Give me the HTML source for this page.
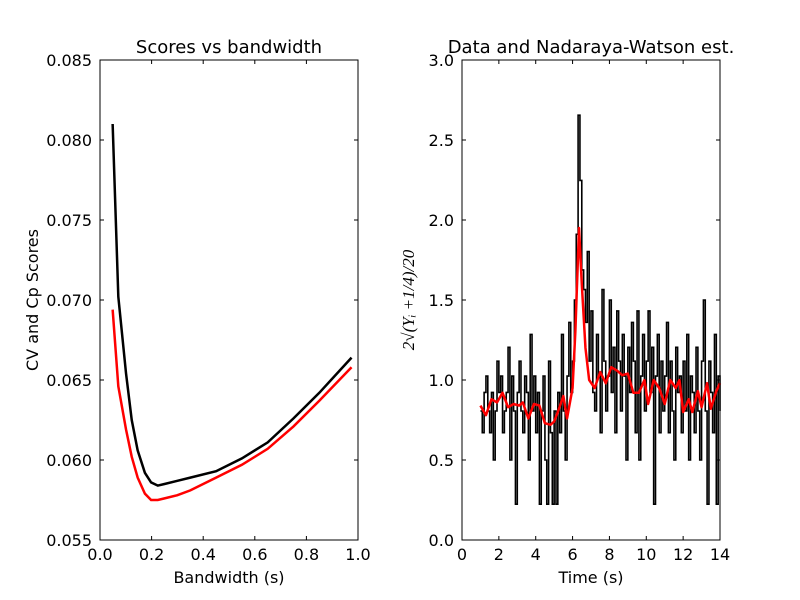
<!DOCTYPE html>
<html><head><meta charset="utf-8"><style>
body{margin:0;background:#fff}
svg{display:block;font-family:"DejaVu Sans","Liberation Sans",sans-serif}
</style></head><body>
<svg id="fig" width="800" height="600" viewBox="0 0 800 600">
<rect width="800" height="600" fill="#fff"/>
<g id="left"></g>
<g id="right"></g>
</svg>
<script>
const bwX=[0.049,0.071,0.101,0.123,0.146,0.174,0.198,0.224,0.25,0.3,0.35,0.45,0.55,0.65,0.75,0.85,0.975];
const cvScores=[0.0810,0.0702,0.0654,0.0625,0.0606,0.0592,0.0586,0.0584,0.0585,0.0587,0.0589,0.0593,0.0601,0.0611,0.0626,0.0642,0.0664];
const cpScores=[0.0694,0.0646,0.0619,0.0602,0.0589,0.0579,0.0575,0.0575,0.0576,0.0578,0.0581,0.0589,0.0597,0.0607,0.0621,0.0637,0.0658];
const leftXTicks=[0.0,0.2,0.4,0.6,0.8,1.0];
const leftYTicks=[0.055,0.060,0.065,0.070,0.075,0.080,0.085];
const tStart=1.0, tStep=0.1;
const counts=[3,2,4,5,3,2,4,1,3,6,4,
5,2,3,4,7,1,5,3,0,4,
6,3,2,5,4,1,8,3,5,2,
4,0,3,5,1,0,6,2,0,3,
0,4,2,8,3,1,5,9,4,6,
11,18,35,25,14,12,9,16,6,
10,4,3,8,5,2,12,6,3,5,11,
4,7,2,10,6,3,8,5,1,7,
4,9,6,2,10,1,5,8,3,6,
10,4,7,0,5,8,2,6,3,5,
9,2,6,3,1,7,4,5,2,6,
3,8,1,5,4,2,7,3,1,6,
11,3,0,6,4,2,8,0,5,3];
const nwT=[1.0,1.3,1.6,1.9,2.2,2.5,2.8,3.1,3.3,3.6,3.9,4.2,4.5,4.8,5.0,5.2,5.5,5.7,6.0,6.15,6.35,6.5,6.7,6.9,7.2,7.5,7.8,8.1,8.4,8.7,9.0,9.3,9.6,9.9,10.1,10.4,10.7,11.0,11.3,11.6,11.8,12.0,12.3,12.5,12.8,13.0,13.3,13.5,13.8,14.0];
const nwY=[0.84,0.78,0.88,0.86,0.92,0.83,0.85,0.84,0.86,0.76,0.85,0.84,0.73,0.72,0.74,0.80,0.90,0.76,0.95,1.3,1.95,1.6,1.2,1.0,0.95,1.05,0.98,1.08,1.06,1.03,1.04,0.92,0.92,1.00,0.85,1.0,0.95,0.85,1.0,0.95,1.0,0.80,0.88,0.80,0.93,0.83,0.98,0.82,0.93,0.98];
const rightXTicks=[0,2,4,6,8,10,12,14];
const rightYTicks=[0.0,0.5,1.0,1.5,2.0,2.5,3.0];

const NS="http://www.w3.org/2000/svg";
function mk(p,tag,at,txt){const e=document.createElementNS(NS,tag);for(const k in at)e.setAttribute(k,at[k]);if(txt!==undefined)e.textContent=txt;p.appendChild(e);return e;}

function axes(g,x0,x1,y0,y1,xd,yd,xt,yt,xfmt,yfmt,title,xlabel){
  const sx=v=>x0+(v-xd[0])/(xd[1]-xd[0])*(x1-x0);
  const sy=v=>y1-(v-yd[0])/(yd[1]-yd[0])*(y1-y0);
  xt.forEach(v=>{const x=sx(v);
    let t=mk(g,'line',{x1:x,x2:x,y1:y1,y2:y1-4,stroke:'#000'});
    
    mk(g,'line',{x1:x,x2:x,y1:y0,y2:y0+4,stroke:'#000'});
    let l=mk(g,'text',{x:x,y:y1+20,'text-anchor':'middle','font-size':16},xfmt(v));
    });
  yt.forEach(v=>{const y=sy(v);
    let t=mk(g,'line',{x1:x0,x2:x0+4,y1:y,y2:y,stroke:'#000'});
    
    mk(g,'line',{x1:x1,x2:x1-4,y1:y,y2:y,stroke:'#000'});
    let l=mk(g,'text',{x:x0-8,y:y+6,'text-anchor':'end','font-size':16},yfmt(v));
    });
  let tt=mk(g,'text',{x:(x0+x1)/2,y:y0-7,'text-anchor':'middle','font-size':18},title);
  
  let xl=mk(g,'text',{x:(x0+x1)/2,y:y1+43,'text-anchor':'middle','font-size':16},xlabel);
  
  return {sx,sy};
}
function frame(g,x0,x1,y0,y1){let r=mk(g,'rect',{x:x0,y:y0,width:x1-x0,height:y1-y0,fill:'none',stroke:'#000','stroke-width':1});
  }

// left
const L=document.getElementById('left');
const a=axes(L,100,358,60,540,[0,1],[0.055,0.085],leftXTicks,leftYTicks,v=>v.toFixed(1),v=>v.toFixed(3),'Scores vs bandwidth','Bandwidth (s)');
let pc=mk(L,'polyline',{points:bwX.map((x,i)=>a.sx(x)+','+a.sy(cpScores[i])).join(' '),fill:'none',stroke:'#f00','stroke-width':2.5});

let pv=mk(L,'polyline',{points:bwX.map((x,i)=>a.sx(x)+','+a.sy(cvScores[i])).join(' '),fill:'none',stroke:'#000','stroke-width':2.5});

frame(L,100,358,60,540);
let yl=mk(L,'text',{x:0,y:0,'text-anchor':'middle','font-size':16,transform:'translate(38,300) rotate(-90)'},'CV and Cp Scores');


// right
const R=document.getElementById('right');
const b=axes(R,462,720,60,540,[0,14],[0,3],rightXTicks,rightYTicks,v=>String(v),v=>v.toFixed(1),'Data and Nadaraya-Watson est.','Time (s)');
const vals=counts.map(c=>2*Math.sqrt((c+0.25)/20));
const stepPts=[];
vals.forEach((v,i)=>{const xa=b.sx(tStart+i*tStep), xb=b.sx(Math.min(tStart+(i+1)*tStep,14));stepPts.push(xa+','+b.sy(v));stepPts.push(xb+','+b.sy(v));});
let dp=mk(R,'polyline',{points:stepPts.join(' '),fill:'none',stroke:'#000','stroke-width':1.6});

let nw=mk(R,'polyline',{points:nwT.map((t,i)=>b.sx(t)+','+b.sy(nwY[i])).join(' '),fill:'none',stroke:'#f00','stroke-width':2.5,'stroke-linejoin':'round'});

frame(R,462,720,60,540);
let yl2=mk(R,'text',{x:0,y:0,'text-anchor':'middle','font-size':17,'font-family':'Liberation Serif,serif','font-style':'italic',transform:'translate(414,300) rotate(-90)'},'2√(Yᵢ +1/4)/20');

</script>
</body></html>
